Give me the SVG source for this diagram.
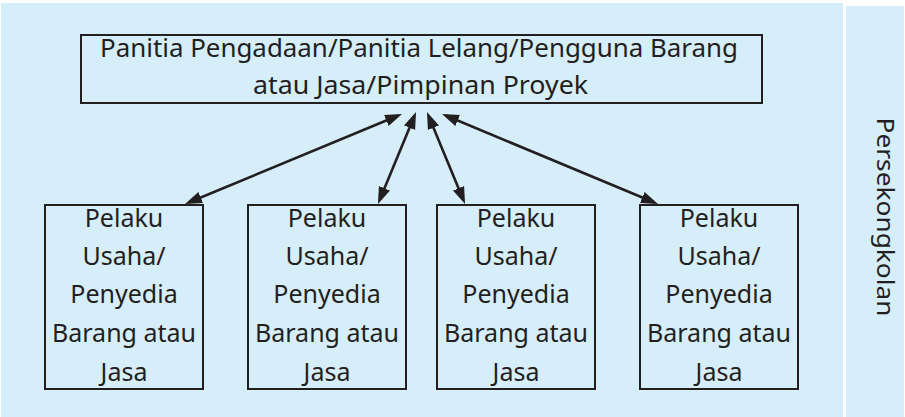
<svg xmlns="http://www.w3.org/2000/svg" width="905" height="417" viewBox="0 0 905 417">
<style>
.panel{fill:#d6edfa;}
.box{fill:none;stroke:#231f20;stroke-width:2;}
.t{font-family:"Noto Sans","DejaVu Sans",sans-serif;font-size:25px;fill:#231f20;text-anchor:middle;}
.conn{stroke:#231f20;stroke-width:2.6;fill:none;marker-start:url(#ah);marker-end:url(#ah);}
</style>
<defs>
<marker id="ah" markerUnits="userSpaceOnUse" markerWidth="18" markerHeight="14" refX="13" refY="6" orient="auto-start-reverse" viewBox="0 0 18 12">
<path d="M0,0 L17,6 L0,12 z" fill="#231f20"/>
</marker>
</defs>
<rect width="905" height="417" fill="#ffffff"/>
<rect class="panel" x="1" y="3" width="842" height="414"/>
<rect class="panel" x="846" y="6" width="58" height="411"/>
<g id="panel-label">
<text class="t" style="font-size:23px" transform="translate(877,217) rotate(90)" textLength="199" lengthAdjust="spacingAndGlyphs">Persekongkolan</text>
</g>
<g id="top">
<rect class="box" x="81" y="35" width="681" height="68"/>
<text class="t" x="419" y="57" textLength="638" lengthAdjust="spacingAndGlyphs">Panitia Pengadaan/Panitia Lelang/Pengguna Barang</text>
<text class="t" x="420.5" y="94" textLength="335" lengthAdjust="spacingAndGlyphs">atau Jasa/Pimpinan Proyek</text>
</g>
<g id="p1">
<rect class="box" x="45" y="205" width="158" height="184"/>
<text class="t" x="124" y="227">Pelaku</text>
<text class="t" x="124" y="265">Usaha/</text>
<text class="t" x="124" y="303">Penyedia</text>
<text class="t" x="124" y="342">Barang atau</text>
<text class="t" x="124" y="381">Jasa</text>
</g>
<g id="p2">
<rect class="box" x="248" y="205" width="158" height="184"/>
<text class="t" x="327" y="227">Pelaku</text>
<text class="t" x="327" y="265">Usaha/</text>
<text class="t" x="327" y="303">Penyedia</text>
<text class="t" x="327" y="342">Barang atau</text>
<text class="t" x="327" y="381">Jasa</text>
</g>
<g id="p3">
<rect class="box" x="437" y="205" width="158" height="184"/>
<text class="t" x="516" y="227">Pelaku</text>
<text class="t" x="516" y="265">Usaha/</text>
<text class="t" x="516" y="303">Penyedia</text>
<text class="t" x="516" y="342">Barang atau</text>
<text class="t" x="516" y="381">Jasa</text>
</g>
<g id="p4">
<rect class="box" x="640" y="205" width="158" height="184"/>
<text class="t" x="719" y="227">Pelaku</text>
<text class="t" x="719" y="265">Usaha/</text>
<text class="t" x="719" y="303">Penyedia</text>
<text class="t" x="719" y="342">Barang atau</text>
<text class="t" x="719" y="381">Jasa</text>
</g>
<g id="connectors">
<line class="conn" x1="188.7" y1="202.5" x2="398.3" y2="115.5"/>
<line class="conn" x1="379.5" y1="200.3" x2="414.5" y2="115.7"/>
<line class="conn" x1="463.5" y1="200.3" x2="428.5" y2="115.7"/>
<line class="conn" x1="654.3" y1="202.5" x2="445.7" y2="115.5"/>
</g>
</svg>
